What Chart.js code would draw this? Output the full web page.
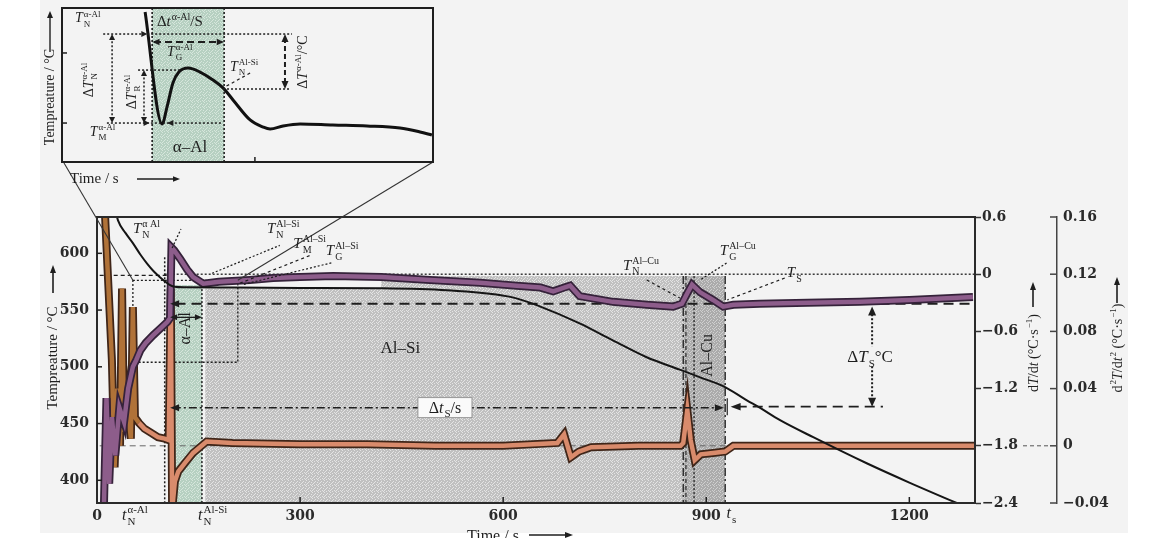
<!DOCTYPE html>
<html>
<head>
<meta charset="utf-8">
<script src="https://cdn.jsdelivr.net/npm/chart.js@4.4.1/dist/chart.umd.min.js"></script>
<style>
  html, body { margin: 0; padding: 0; background: #fff; }
  #wrap { position: relative; width: 1159px; height: 538px; overflow: hidden; }
  #paper { position: absolute; left: 40px; top: 0; width: 1088px; height: 533px; background: #f3f3f3; }
  canvas { position: absolute; left: 0; top: 0; }
</style>
</head>
<body>
<div id="wrap">
  <div id="paper"></div>
  <canvas id="main" width="1159" height="538"></canvas>
  <canvas id="inset" width="450" height="200"></canvas>
</div>
<script>
// ---- data ----

// cooling curve (time s, temperature °C)
const tempTime = [28, 31, 42, 53, 64, 74, 84, 93, 100, 108, 115, 130, 200, 300, 418, 517, 614, 654, 713, 762, 812, 861, 891, 925, 960, 979, 1009, 1058, 1137, 1200, 1270, 1290];
const tempVal = [636, 629, 618, 609, 599, 591, 584, 579, 575.5, 572, 570.5, 570, 569.8, 569.5, 569.2, 567.4, 561.2, 553.3, 538.3, 523.3, 508.4, 497.5, 490.7, 483, 470.5, 464, 453, 438, 415, 398, 380, 375];

// first derivative dT/dt (°C/s)
const rateTime = [10, 14, 18, 22, 27, 33, 40, 46, 53, 58, 64, 72, 83, 95, 104, 108, 110, 114, 123, 133, 142, 157, 180, 226, 260, 300, 349, 420, 492, 566, 620, 655, 674, 690, 699, 713, 762, 812, 851, 864, 872, 879, 891, 910, 925, 940, 979, 1050, 1127, 1200, 1294];
const rateVal = [-2.5, -1.3, -2.2, -1.5, -1.9, -1.4, -1.55, -1.2, -0.97, -0.9, -0.8, -0.72, -0.64, -0.56, -0.5, -0.46, 0.28, 0.25, 0.16, 0.05, -0.03, -0.1, -0.08, -0.06, -0.04, -0.03, -0.02, -0.03, -0.06, -0.09, -0.12, -0.14, -0.18, -0.14, -0.12, -0.23, -0.29, -0.32, -0.34, -0.31, -0.2, -0.11, -0.19, -0.27, -0.34, -0.32, -0.31, -0.3, -0.29, -0.27, -0.24];

// second derivative d2T/dt2
const accTime = [10, 16, 22, 26, 30, 34, 37, 40, 45, 50, 53, 56, 62, 70, 80, 90, 100, 106, 109, 111, 115, 120, 130, 142, 152, 162, 200, 300, 400, 500, 600, 680, 690, 700, 712, 730, 800, 862, 866, 872, 877, 883, 892, 910, 928, 940, 1000, 1100, 1200, 1297];
const accVal = [0.18, 0.12, 0.06, -0.015, 0.04, 0.0, 0.11, 0.01, 0.03, 0.005, 0.097, 0.02, 0.016, 0.012, 0.009, 0.006, 0.005, 0.004, 0.11, -0.045, -0.025, -0.018, -0.012, -0.005, -0.001, 0.003, 0.002, 0.001, 0.001, 0.0, 0.0, 0.002, 0.008, -0.008, -0.004, -0.001, 0.0, 0.0, 0.002, 0.025, 0.004, -0.01, -0.006, -0.005, -0.004, 0.0, 0.0, 0.0, 0.0, 0.0];

// tick labels
const timeTicks = [0, 300, 600, 900, 1200];
const tempTicks = [400, 450, 500, 550, 600];
const rateTicks = [0.6, 0, -0.6, -1.2, -1.8, -2.4];
const accTicks = [0.16, 0.12, 0.08, 0.04, 0, -0.04];

// phase zones (s)
const alphaSpan = [105, 155];
const alSiSpan = [160, 866];
const alCuSpan = [866, 928];

// inset sketch, relative units 0..100
const insetTime = [22.4, 27.0, 28.3, 29.9, 31.5, 34.0, 37.2, 40.7, 43.4, 46.1, 50.7, 54.2, 56.1, 59.6, 64.2, 73.0, 82.2, 91.1, 96.5, 99.7];
const insetTemp = [97.4, 24.7, 35.7, 51.3, 58.4, 61.0, 58.4, 53.2, 48.1, 40.3, 27.3, 22.7, 21.4, 23.4, 24.7, 24.0, 23.4, 22.1, 19.5, 17.5];
const insetAlpha = [24.3, 43.7];

// ---- style ----
const INK = '#1e1e1e';
const SERIF = '"Liberation Serif", "DejaVu Serif", serif';
const tickFont = { family: '"DejaVu Serif", serif', size: 14, weight: 'bold' };
const DOT = [2, 2], DASH = [4, 3], LDASH = [10, 6], DASHDOT = [8, 3, 2, 3];
// light dots of the stippled zones, on a 6x6 tile
const SPECKS = [[0, 0], [3, 1], [5, 2], [1, 3], [4, 4], [2, 5], [0, 4], [5, 5], [2, 2]];

const pairs = (xs, ys) => xs.map((x, i) => ({ x: x, y: ys[i] }));

function fmt(v) {
  if (Math.abs(v) < 1e-9) return '0';
  return String(+v.toFixed(2)).replace('-', '\u2212');
}

function stipple(ctx, base, dot) {
  const c = document.createElement('canvas');
  c.width = 6; c.height = 6;
  const g = c.getContext('2d');
  g.fillStyle = base; g.fillRect(0, 0, 6, 6);
  g.fillStyle = dot;
  SPECKS.forEach(p => g.fillRect(p[0], p[1], 1, 1));
  return ctx.createPattern(c, 'repeat');
}

function seg(ctx, x1, y1, x2, y2, dash, w, col) {
  ctx.save();
  ctx.strokeStyle = col || INK;
  ctx.lineWidth = w || 1.2;
  ctx.setLineDash(dash || []);
  ctx.beginPath(); ctx.moveTo(x1, y1); ctx.lineTo(x2, y2); ctx.stroke();
  ctx.restore();
}

// arrow head with its tip at x,y ; ang 0 = pointing right
function head(ctx, x, y, ang, len, wid) {
  len = len || 7; wid = wid || 3.2;
  ctx.save();
  ctx.fillStyle = INK;
  ctx.translate(x, y); ctx.rotate(ang);
  ctx.beginPath(); ctx.moveTo(0, 0); ctx.lineTo(-len, -wid); ctx.lineTo(-len, wid); ctx.closePath(); ctx.fill();
  ctx.restore();
}

// text made of parts {s, i (italic), sub, sup}
function drawRich(ctx, parts, x, y, size, align) {
  const small = Math.round(size * 0.66);
  const widths = [];
  let w = 0;
  parts.forEach(p => {
    ctx.font = (p.i ? 'italic ' : '') + size + 'px ' + SERIF;
    const bw = ctx.measureText(p.s).width;
    ctx.font = small + 'px ' + SERIF;
    const sw = Math.max(p.sub ? ctx.measureText(p.sub).width : 0, p.sup ? ctx.measureText(p.sup).width : 0);
    widths.push([bw, sw]);
    w += bw + (sw ? sw + 1 : 0);
  });
  let cx = align === 'center' ? x - w / 2 : (align === 'right' ? x - w : x);
  ctx.textAlign = 'left';
  ctx.textBaseline = 'alphabetic';
  parts.forEach((p, k) => {
    ctx.font = (p.i ? 'italic ' : '') + size + 'px ' + SERIF;
    ctx.fillText(p.s, cx, y);
    cx += widths[k][0];
    if (p.sub || p.sup) {
      ctx.font = small + 'px ' + SERIF;
      if (p.sub) ctx.fillText(p.sub, cx + 1, y + size * 0.3);
      if (p.sup) ctx.fillText(p.sup, cx + 1, y - size * 0.42);
      cx += widths[k][1] + 1;
    }
  });
  return w;
}

function rotRich(ctx, parts, cx, cy, size) {
  ctx.save();
  ctx.translate(cx, cy); ctx.rotate(-Math.PI / 2);
  drawRich(ctx, parts, 0, size * 0.35, size, 'center');
  ctx.restore();
}

const T = (sub, sup) => ({ s: 'T', i: true, sub: sub, sup: sup });

// ---- inset ----
const insetDeco = {
  id: 'insetDeco',
  beforeDatasetsDraw(chart) {
    const ctx = chart.ctx, a = chart.chartArea, s = chart.scales;
    const X = u => s.x.getPixelForValue(u);
    ctx.save();
    ctx.fillStyle = stipple(ctx, '#b6d0c1', '#d6e6dc');
    ctx.fillRect(X(insetAlpha[0]), a.top, X(insetAlpha[1]) - X(insetAlpha[0]), a.bottom - a.top);
    seg(ctx, X(insetAlpha[0]), a.top, X(insetAlpha[0]), a.bottom, DOT, 1.6);
    seg(ctx, X(insetAlpha[1]), a.top, X(insetAlpha[1]), a.bottom, DOT, 1.6);
    ctx.restore();
  },
  afterDraw(chart) {
    const ctx = chart.ctx, a = chart.chartArea, s = chart.scales;
    const X = u => s.x.getPixelForValue(u), Y = u => s.y.getPixelForValue(u);
    ctx.save();
    ctx.fillStyle = INK;
    ctx.strokeStyle = INK; ctx.lineWidth = 2; ctx.setLineDash([]);
    ctx.strokeRect(a.left, a.top, a.right - a.left, a.bottom - a.top);
    seg(ctx, a.left, Y(70.8), a.left + 5, Y(70.8), [], 1.5);
    seg(ctx, a.left, Y(25.3), a.left + 5, Y(25.3), [], 1.5);
    seg(ctx, X(52), a.bottom, X(52), a.bottom - 5, [], 1.5);

    // levels
    seg(ctx, X(11.1), Y(83.1), X(62.0), Y(83.1), DOT, 1.5);
    head(ctx, X(23.0), Y(83.1), 0, 6, 3);
    seg(ctx, X(24.8), Y(77.9), X(43.2), Y(77.9), [7, 4], 2);
    head(ctx, X(24.4), Y(77.9), Math.PI, 7, 3.2);
    head(ctx, X(43.6), Y(77.9), 0, 7, 3.2);
    seg(ctx, X(20.5), Y(59.7), X(31.8), Y(59.7), DOT, 1.5);
    seg(ctx, X(43.4), Y(47.4), X(61.5), Y(47.4), DOT, 1.5);
    seg(ctx, X(12.1), Y(25.3), X(43.1), Y(25.3), DOT, 1.5);
    head(ctx, X(23.6), Y(25.3), 0, 6, 3);
    head(ctx, X(28.4), Y(25.3), Math.PI, 6, 3);
    seg(ctx, X(50.7), Y(57.8), X(43.9), Y(48.7), [3, 3], 1.2);

    // vertical spans
    seg(ctx, X(60.1), Y(80.5), X(60.1), Y(50), [5, 3], 2);
    head(ctx, X(60.1), Y(83.1), -Math.PI / 2, 8, 3.5);
    head(ctx, X(60.1), Y(47.4), Math.PI / 2, 8, 3.5);
    seg(ctx, X(13.5), Y(81), X(13.5), Y(27.5), DOT, 1.5);
    head(ctx, X(13.5), Y(83.1), -Math.PI / 2, 6, 3);
    head(ctx, X(13.5), Y(25.3), Math.PI / 2, 6, 3);
    seg(ctx, X(22.1), Y(57.5), X(22.1), Y(27.5), DOT, 1.5);
    head(ctx, X(22.1), Y(59.7), -Math.PI / 2, 6, 3);
    head(ctx, X(22.1), Y(25.3), Math.PI / 2, 6, 3);

    // labels
    drawRich(ctx, [T('N', '\u03b1-Al')], X(3.5), Y(90.6), 14, 'left');
    drawRich(ctx, [{ s: '\u0394' }, { s: 't', i: true, sup: '\u03b1-Al' }, { s: '/S' }], X(25.6), Y(88.3), 15, 'left');
    drawRich(ctx, [T('G', '\u03b1-Al')], X(28.3), Y(68.8), 14, 'left');
    drawRich(ctx, [T('N', 'Al-Si')], X(45.3), Y(59.1), 14, 'left');
    drawRich(ctx, [T('M', '\u03b1-Al')], X(7.5), Y(16.9), 14, 'left');
    ctx.font = '17px ' + SERIF; ctx.textAlign = 'center'; ctx.textBaseline = 'middle';
    ctx.fillText('\u03b1\u2013Al', X(34.5), Y(9.4));
    rotRich(ctx, [{ s: '\u0394' }, T('N', '\u03b1-Al')], X(7.0), Y(53.2), 14);
    rotRich(ctx, [{ s: '\u0394' }, T('R', '\u03b1-Al')], X(18.6), Y(45.5), 14);
    rotRich(ctx, [{ s: '\u0394' }, T(null, '\u03b1-Al'), { s: '/\u00b0C' }], X(64.7), Y(64.9), 14);

    // axis titles
    ctx.save();
    ctx.translate(50, 97); ctx.rotate(-Math.PI / 2);
    ctx.font = '14px ' + SERIF; ctx.textAlign = 'center'; ctx.textBaseline = 'middle';
    ctx.fillText('Tempreature / \u00b0C', 0, 0);
    ctx.restore();
    seg(ctx, 50, 52, 50, 17, [], 1.4);
    head(ctx, 50, 11, -Math.PI / 2, 7, 3);
    ctx.font = '15px ' + SERIF; ctx.textAlign = 'left'; ctx.textBaseline = 'alphabetic';
    ctx.fillText('Time / s', 70, 183);
    seg(ctx, 137, 179, 174, 179, [], 1.4);
    head(ctx, 180, 179, 0, 7, 2.8);
    ctx.restore();
  }
};

const insetChart = new Chart(document.getElementById('inset'), {
  type: 'line',
  data: {
    datasets: [{ data: pairs(insetTime, insetTemp), borderColor: '#111', borderWidth: 3, pointRadius: 0, cubicInterpolationMode: 'monotone' }]
  },
  options: {
    responsive: false,
    animation: false,
    layout: { padding: { left: 62, top: 8, right: 17, bottom: 38 } },
    plugins: { legend: { display: false }, tooltip: { enabled: false } },
    scales: {
      x: { type: 'linear', min: 0, max: 100, display: false },
      y: { min: 0, max: 100, display: false }
    }
  },
  plugins: [insetDeco]
});

// ---- main chart ----
const backdrop = {
  id: 'backdrop',
  beforeDatasetsDraw(chart) {
    const ctx = chart.ctx, a = chart.chartArea, s = chart.scales;
    const X = t => s.x.getPixelForValue(t), Y = v => s.y.getPixelForValue(v);
    const R = v => s.y1.getPixelForValue(v), Q = v => s.y2.getPixelForValue(v);
    ctx.save();
    ctx.beginPath(); ctx.rect(a.left, a.top, a.right - a.left, a.bottom - a.top); ctx.clip();

    // phase zones
    ctx.fillStyle = stipple(ctx, '#b6d0c1', '#d6e6dc');
    ctx.fillRect(X(alphaSpan[0]), Y(572), X(alphaSpan[1]) - X(alphaSpan[0]), a.bottom - Y(572));
    ctx.fillStyle = stipple(ctx, '#c0c0c0', '#e4e4e4');
    ctx.fillRect(X(alSiSpan[0]), Y(569), X(420) - X(alSiSpan[0]), a.bottom - Y(569));
    ctx.fillRect(X(420), R(-0.02), X(alSiSpan[1]) - X(420), a.bottom - R(-0.02));
    ctx.fillStyle = stipple(ctx, '#ababab', '#cfcfcf');
    ctx.fillRect(X(alCuSpan[0]), R(-0.02), X(alCuSpan[1]) - X(alCuSpan[0]), a.bottom - R(-0.02));

    // reference levels
    seg(ctx, X(100), R(0), a.right, R(0), DOT, 1.3);
    seg(ctx, X(116), R(-0.31), a.right, R(-0.31), LDASH, 1.8);
    seg(ctx, X(4), Q(0), a.right, Q(0), [6, 4], 1, '#666');
    seg(ctx, X(4), Y(580.6), X(108), Y(580.6), DASH, 1.3);

    // zoom box of the inset
    ctx.save();
    ctx.strokeStyle = INK; ctx.lineWidth = 1.3; ctx.setLineDash(DOT);
    ctx.strokeRect(X(53), Y(576.2), X(208) - X(53), Y(504) - Y(576.2));
    ctx.restore();

    // zone borders
    seg(ctx, X(100), Y(596.5), X(100), a.bottom, DOT, 1.5);
    seg(ctx, X(155), Y(572), X(155), a.bottom, DOT, 1.5);
    seg(ctx, X(866), R(-0.02), X(866), a.bottom, DASHDOT, 1.3);
    seg(ctx, X(870), R(-0.02), X(870), a.bottom, DASH, 1.1);
    seg(ctx, X(882), R(-0.02), X(882), a.bottom, DOT, 1.3);
    seg(ctx, X(928), R(-0.02), X(928), a.bottom, DASHDOT, 1.3);
    ctx.restore();
  }
};

const overlay = {
  id: 'overlay',
  afterDraw(chart) {
    const ctx = chart.ctx, a = chart.chartArea, s = chart.scales;
    const X = t => s.x.getPixelForValue(t), Y = v => s.y.getPixelForValue(v);
    const R = v => s.y1.getPixelForValue(v), Q = v => s.y2.getPixelForValue(v);
    ctx.save();
    ctx.fillStyle = INK;

    // frame and inward ticks
    ctx.strokeStyle = '#2a2a2a'; ctx.lineWidth = 2; ctx.setLineDash([]);
    ctx.strokeRect(a.left, a.top, a.right - a.left, a.bottom - a.top);
    tempTicks.forEach(v => seg(ctx, a.left, Y(v), a.left + 5, Y(v), [], 1.5));
    timeTicks.slice(1).forEach(t => seg(ctx, X(t), a.bottom, X(t), a.bottom - 6, [], 1.5));
    accTicks.forEach(v => seg(ctx, s.y2.left - 7, Q(v), s.y2.left, Q(v), [], 1.5, '#444'));
    seg(ctx, s.y2.left - 34, Q(0), s.y2.left - 7, Q(0), [4, 3], 1, '#555');

    // connectors from inset
    const ia = insetChart.chartArea;
    seg(ctx, ia.left + 2, ia.bottom + 1, X(53), Y(576.2), [], 1.1, '#333');
    seg(ctx, ia.right, ia.bottom, X(208), Y(576.2), [], 1.1, '#333');

    // arrows
    head(ctx, X(108), R(-0.31), Math.PI, 9, 3.5);
    seg(ctx, X(112), R(-1.40), X(922), R(-1.40), DASHDOT, 1.5);
    head(ctx, X(108), R(-1.40), Math.PI, 9, 3.5);
    head(ctx, X(926), R(-1.40), 0, 9, 3.5);
    seg(ctx, X(931), R(-1.30), X(931), R(-1.48), [], 1.2);
    seg(ctx, X(945), R(-1.39), X(1161), R(-1.39), LDASH, 1.8);
    head(ctx, X(936), R(-1.39), Math.PI, 10, 3.8);
    seg(ctx, X(1145), R(-0.42), X(1145), R(-1.30), DOT, 2);
    head(ctx, X(1145), R(-0.34), -Math.PI / 2, 9, 4);
    head(ctx, X(1145), R(-1.39), Math.PI / 2, 9, 4);
    seg(ctx, X(114), Y(543.6), X(149), Y(543.6), [], 1.3);
    head(ctx, X(108), Y(543.6), Math.PI, 7, 3);
    head(ctx, X(155), Y(543.6), 0, 7, 3);

    // leaders
    seg(ctx, X(111), R(0.275), X(124), R(0.474), DOT, 1.3);
    seg(ctx, X(170), Y(582.4), X(270), Y(607), DOT, 1.2);
    seg(ctx, X(211), Y(573.6), X(315), Y(598.2), [3, 3], 1.2);
    seg(ctx, X(217), Y(572.7), X(349), Y(592), DOT, 1.2);
    seg(ctx, X(812), R(-0.06), X(861), R(-0.25), [3, 3], 1.2);
    seg(ctx, X(930), R(0.117), X(891), R(-0.06), DOT, 1.3);
    seg(ctx, X(1016), R(-0.04), X(931), R(-0.27), [3, 3], 1.2);

    // point labels
    drawRich(ctx, [T('N', '\u03b1 Al')], X(53), Y(617.6), 15, 'left');
    drawRich(ctx, [T('N', 'Al\u2013Si')], X(251), Y(617.6), 15, 'left');
    drawRich(ctx, [T('M', 'Al\u2013Si')], X(290), Y(604.4), 15, 'left');
    drawRich(ctx, [T('G', 'Al\u2013Si')], X(338), Y(598.2), 15, 'left');
    drawRich(ctx, [T('N', 'Al\u2013Cu')], X(777), R(0.045), 15, 'left');
    drawRich(ctx, [T('G', 'Al\u2013Cu')], X(920), R(0.2), 15, 'left');
    drawRich(ctx, [T('S')], X(1019), R(-0.03), 15, 'left');

    // zone names
    ctx.font = '17px ' + SERIF; ctx.textAlign = 'center'; ctx.textBaseline = 'middle';
    ctx.fillText('Al\u2013Si', X(448), Y(516.3));
    ctx.save(); ctx.translate(X(903), Y(510)); ctx.rotate(-Math.PI / 2);
    ctx.font = '16px ' + SERIF; ctx.fillText('Al\u2013Cu', 0, 0); ctx.restore();
    ctx.save(); ctx.translate(X(131), Y(533.9)); ctx.rotate(-Math.PI / 2);
    ctx.font = '16px ' + SERIF; ctx.fillText('\u03b1\u2013Al', 0, 0); ctx.restore();

    // boxed span labels
    const dts = [{ s: '\u0394' }, { s: 't', i: true, sub: 'S' }, { s: '/s' }];
    ctx.fillStyle = '#fafafa'; ctx.fillRect(X(514) - 27, R(-1.40) - 10, 54, 20);
    ctx.strokeStyle = '#888'; ctx.lineWidth = 0.8; ctx.setLineDash([]);
    ctx.strokeRect(X(514) - 27, R(-1.40) - 10, 54, 20);
    ctx.fillStyle = INK;
    drawRich(ctx, dts, X(514), R(-1.40) + 5, 16, 'center');
    ctx.fillStyle = '#f3f3f3'; ctx.fillRect(X(1142) - 28, R(-0.87) - 11, 56, 20);
    ctx.fillStyle = INK;
    drawRich(ctx, [{ s: '\u0394' }, T('S'), { s: '\u00b0C' }], X(1142), R(-0.87) + 5, 17, 'center');

    // x axis extra labels
    drawRich(ctx, [{ s: 't', i: true, sub: 'N', sup: '\u03b1-Al' }], X(56), a.bottom + 17, 16, 'center');
    drawRich(ctx, [{ s: 't', i: true, sub: 'N', sup: 'Al-Si' }], X(171), a.bottom + 17, 16, 'center');
    drawRich(ctx, [{ s: 't', i: true, sub: 's' }], X(930), a.bottom + 15, 16, 'left');

    // axis titles
    ctx.save(); ctx.translate(53, 358); ctx.rotate(-Math.PI / 2);
    ctx.font = '15px ' + SERIF; ctx.textAlign = 'center'; ctx.textBaseline = 'middle';
    ctx.fillText('Tempreature / \u00b0C', 0, 0); ctx.restore();
    seg(ctx, 53, 293, 53, 272, [], 1.6);
    head(ctx, 53, 265, -Math.PI / 2, 8, 3);

    rotRich(ctx, [{ s: 'd' }, { s: 'T', i: true }, { s: '/d' }, { s: 't', i: true }, { s: ' (\u00b0C\u00b7s' }, { s: '', sup: '\u22121' }, { s: ')' }], 1033, 353, 14);
    seg(ctx, 1033, 307, 1033, 289, [], 1.6);
    head(ctx, 1033, 282, -Math.PI / 2, 8, 3);
    rotRich(ctx, [{ s: 'd', sup: '2' }, { s: 'T', i: true }, { s: '/d' }, { s: 't', i: true, sup: '2' }, { s: ' (\u00b0C\u00b7s' }, { s: '', sup: '\u22121' }, { s: ')' }], 1117, 348, 14);
    seg(ctx, 1117, 303, 1117, 284, [], 1.6);
    head(ctx, 1117, 277, -Math.PI / 2, 8, 3);

    ctx.font = '16px ' + SERIF; ctx.textAlign = 'left'; ctx.textBaseline = 'alphabetic';
    ctx.fillStyle = INK;
    ctx.fillText('Time / s', 467, 541);
    seg(ctx, 529, 535, 566, 535, [], 1.5);
    head(ctx, 573, 535, 0, 8, 3);
    ctx.restore();
  }
};

const mainChart = new Chart(document.getElementById('main'), {
  type: 'line',
  data: {
    datasets: [
      { label: 'Temperature', data: pairs(tempTime, tempVal), yAxisID: 'y', borderColor: '#151515', borderWidth: 2, pointRadius: 0, cubicInterpolationMode: 'monotone' },
      { label: 'dT/dt', data: pairs(rateTime, rateVal), yAxisID: 'y1', borderColor: '#8d5d8b', borderWidth: 4.5, pointRadius: 0, tension: 0 },
      { label: 'dT/dt edge', data: pairs(rateTime, rateVal), yAxisID: 'y1', borderColor: '#35223a', borderWidth: 8, pointRadius: 0, tension: 0 },
      { label: 'd2T/dt2', data: pairs(accTime, accVal), yAxisID: 'y2', borderColor: '#d98b6c', borderWidth: 4.5, pointRadius: 0, tension: 0,
        segment: { borderColor: c => (c.p0.parsed.x < 60 ? '#b07238' : undefined) } },
      { label: 'd2T/dt2 edge', data: pairs(accTime, accVal), yAxisID: 'y2', borderColor: '#3f2518', borderWidth: 8, pointRadius: 0, tension: 0 }
    ]
  },
  options: {
    responsive: false,
    animation: false,
    layout: { padding: { left: 40, top: 217, right: 32, bottom: 0 } },
    plugins: { legend: { display: false }, tooltip: { enabled: false } },
    scales: {
      x: {
        type: 'linear', min: 0, max: 1297,
        afterFit: sc => { sc.height = 35; },
        afterBuildTicks: sc => { sc.ticks = timeTicks.map(v => ({ value: v })); },
        grid: { drawOnChartArea: false, drawTicks: false },
        border: { color: '#2a2a2a', width: 2 },
        ticks: { padding: 5, font: tickFont, color: '#2a2a2a', maxRotation: 0, autoSkip: false, callback: v => String(v) }
      },
      y: {
        position: 'left', min: 380, max: 632,
        afterFit: sc => { sc.width = 57; },
        afterBuildTicks: sc => { sc.ticks = tempTicks.map(v => ({ value: v })); },
        grid: { drawOnChartArea: false, drawTicks: false },
        border: { color: '#2a2a2a', width: 2 },
        ticks: { padding: 8, font: tickFont, color: '#2a2a2a', callback: v => String(v) }
      },
      y1: {
        position: 'right', min: -2.4, max: 0.6,
        afterFit: sc => { sc.width = 82; },
        afterBuildTicks: sc => { sc.ticks = rateTicks.map(v => ({ value: v })); },
        grid: { drawOnChartArea: false, drawTicks: true, tickLength: 6, tickColor: '#333', tickWidth: 1.5 },
        border: { color: '#2a2a2a', width: 2 },
        ticks: { padding: 1, font: tickFont, color: '#2a2a2a', callback: fmt }
      },
      y2: {
        position: 'right', min: -0.04, max: 0.16,
        afterFit: sc => { sc.width = 70; },
        afterBuildTicks: sc => { sc.ticks = accTicks.map(v => ({ value: v })); },
        grid: { drawOnChartArea: false, drawTicks: false },
        border: { color: '#444', width: 1.5 },
        ticks: { padding: 6, font: tickFont, color: '#2a2a2a', callback: fmt }
      }
    }
  },
  plugins: [backdrop, overlay]
});
</script>
</body>
</html>
